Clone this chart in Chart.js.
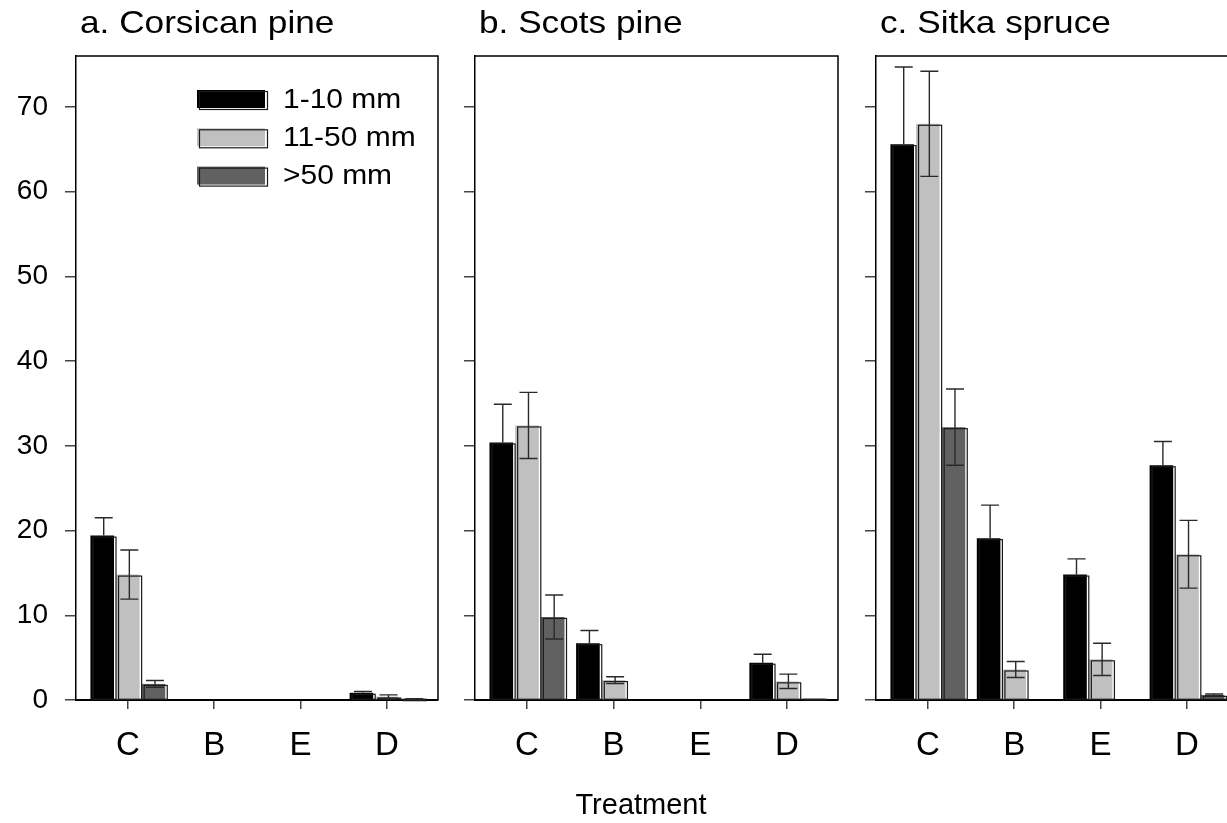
<!DOCTYPE html>
<html>
<head>
<meta charset="utf-8">
<script src="https://cdn.jsdelivr.net/npm/chart.js@4/dist/chart.umd.min.js"></script>
<style>
  html, body { margin: 0; padding: 0; background: #fff; overflow: hidden; width: 1227px; height: 823px; }
  canvas { position: absolute; top: 0; }
  #xtitle { position: absolute; top: 788px; left: 541px; width: 200px; text-align: center;
            font: 29px 'Liberation Sans', Arial, sans-serif; color: #000; }
</style>
</head>
<body>
<canvas id="c1" width="455" height="823" style="left:0px"></canvas>
<canvas id="c2" width="400" height="823" style="left:455px"></canvas>
<canvas id="c3" width="400" height="823" style="left:855px"></canvas>
<div id="xtitle">Treatment</div>
<script>
var FONT = "'Liberation Sans', Arial, sans-serif";

// categories and series
var treatments = ['C', 'B', 'E', 'D'];
var sizeClasses = ['1-10 mm', '11-50 mm', '>50 mm'];
var barColors = ['#000000', '#c0c0c0', '#616161'];
var yTicks = [0, 10, 20, 30, 40, 50, 60, 70];

// a. Corsican pine
var corsicanSmall = [19.4, null, null, 0.85];
var corsicanMedium = [14.8, null, null, 0.4];
var corsicanLarge = [1.9, null, null, 0.1];
var corsicanSmallSE = [2.1, null, null, 0.15];
var corsicanMediumSE = [2.9, null, null, 0.2];
var corsicanLargeSE = [0.4, null, null, 0.05];

// b. Scots pine
var scotsSmall = [30.4, 6.7, null, 4.4];
var scotsMedium = [32.4, 2.35, null, 2.2];
var scotsLarge = [9.8, null, null, 0.15];
var scotsSmallSE = [4.5, 1.5, null, 1.0];
var scotsMediumSE = [3.9, 0.4, null, 0.85];
var scotsLargeSE = [2.6, null, null, 0];

// c. Sitka spruce
var sitkaSmall = [65.6, 19.1, 14.8, 27.7];
var sitkaMedium = [68.0, 3.6, 4.8, 17.2];
var sitkaLarge = [32.2, null, null, 0.6];
var sitkaSmallSE = [9.1, 3.9, 1.85, 2.8];
var sitkaMediumSE = [6.2, 0.95, 1.9, 4.0];
var sitkaLargeSE = [4.5, null, null, 0.1];

// outline offset a little right/down of each bar, like the old plot style
var shadowPlugin = {
  id: 'shadow',
  afterDatasetsDraw: function (chart) {
    var ctx = chart.ctx;
    ctx.save();
    ctx.strokeStyle = '#1a1a1a';
    ctx.lineWidth = 1.2;
    chart.data.datasets.forEach(function (ds, i) {
      chart.getDatasetMeta(i).data.forEach(function (bar, j) {
        if (ds.data[j].y == null) return;
        var p = bar.getProps(['x', 'y', 'base', 'width'], true);
        var l = p.x - p.width / 2 + 2.5, r = p.x + p.width / 2 + 2;
        ctx.strokeRect(l, p.y + 1.5, r - l, p.base - p.y - 1.5);
      });
    });
    ctx.restore();
  }
};

var errorBarPlugin = {
  id: 'errbars',
  afterDatasetsDraw: function (chart) {
    var ctx = chart.ctx, ys = chart.scales.y;
    ctx.save();
    ctx.strokeStyle = '#2a2a2a';
    ctx.lineWidth = 1.4;
    chart.data.datasets.forEach(function (ds, i) {
      chart.getDatasetMeta(i).data.forEach(function (bar, j) {
        var v = ds.data[j].y, se = ds.se[j];
        if (v == null || !se) return;
        var x = bar.getProps(['x'], true).x + 1.5;
        var top = ys.getPixelForValue(v + se), bot = ys.getPixelForValue(v - se);
        // the lower half vanishes into the black bars
        var hideLow = ds.backgroundColor === '#000000';
        ctx.beginPath();
        ctx.moveTo(x, top); ctx.lineTo(x, hideLow ? ys.getPixelForValue(v) : bot);
        ctx.moveTo(x - 9, top); ctx.lineTo(x + 9, top);
        if (!hideLow) { ctx.moveTo(x - 9, bot); ctx.lineTo(x + 9, bot); }
        ctx.stroke();
      });
    });
    ctx.restore();
  }
};

var framePlugin = {
  id: 'frame',
  afterDraw: function (chart) {
    var a = chart.chartArea, ctx = chart.ctx;
    ctx.save();
    ctx.strokeStyle = '#000';
    ctx.lineWidth = 1.5;
    ctx.beginPath();
    ctx.moveTo(a.left, a.top); ctx.lineTo(a.right, a.top); ctx.lineTo(a.right, a.bottom);
    ctx.stroke();
    var opts = chart.options.plugins.frame;
    ctx.fillStyle = '#000';
    ctx.font = '32px ' + FONT;
    ctx.textBaseline = 'alphabetic';
    ctx.translate(a.left + 4, 33);
    ctx.scale(1.1, 1);
    ctx.fillText(opts.title, 0, 0);
    ctx.restore();
  }
};

var legendPlugin = {
  id: 'boxlegend',
  afterDraw: function (chart) {
    var opts = chart.options.plugins.boxlegend;
    if (!opts || !opts.show) return;
    var a = chart.chartArea, ctx = chart.ctx;
    ctx.save();
    chart.data.datasets.forEach(function (ds, i) {
      var x = a.left + 121, y = 90 + i * 38.3;
      ctx.fillStyle = ds.backgroundColor;
      ctx.fillRect(x, y, 68, 18);
      ctx.strokeStyle = '#1a1a1a';
      ctx.lineWidth = 1.2;
      ctx.strokeRect(x + 2.5, y + 1.5, 68, 18);
      ctx.save();
      ctx.fillStyle = '#000';
      ctx.font = '28px ' + FONT;
      ctx.textBaseline = 'middle';
      ctx.translate(x + 86, y + 10);
      ctx.scale(1.07, 1);
      ctx.fillText(ds.label, 0, 0);
      ctx.restore();
    });
    ctx.restore();
  }
};

function makeChart(id, title, yWidth, showYLabels, showLegend, small, medium, large, smallSE, mediumSE, largeSE) {
  var series = [small, medium, large];
  var ses = [smallSE, mediumSE, largeSE];
  var datasets = series.map(function (vals, k) {
    return {
      label: sizeClasses[k],
      data: vals.map(function (v, i) { return { x: i + 1, y: v }; }),
      se: ses[k],
      backgroundColor: barColors[k],
      borderWidth: 0,
      categoryPercentage: 0.89,
      barPercentage: 0.92
    };
  });
  return new Chart(document.getElementById(id), {
    type: 'bar',
    data: { datasets: datasets },
    plugins: [shadowPlugin, errorBarPlugin, framePlugin, legendPlugin],
    options: {
      responsive: false,
      animation: false,
      events: [],
      layout: { padding: { top: 56, right: 17, bottom: 0, left: 0 } },
      plugins: {
        legend: { display: false },
        tooltip: { enabled: false },
        frame: { title: title },
        boxlegend: { show: showLegend }
      },
      scales: {
        x: {
          type: 'linear',
          offset: false,
          min: 0.40,
          max: 4.59,
          afterBuildTicks: function (s) { s.ticks = treatments.map(function (t, i) { return { value: i + 1 }; }); },
          afterFit: function (s) { s.height = 123; },
          grid: { offset: false, drawOnChartArea: false, drawTicks: true, tickLength: 9, tickColor: '#444', lineWidth: 1.5 },
          border: { color: '#000', width: 2 },
          ticks: {
            padding: 17,
            color: '#000',
            font: { family: FONT, size: 33 },
            callback: function (v) { return treatments[v - 1] || ''; }
          }
        },
        y: {
          min: 0,
          max: 76,
          afterBuildTicks: function (s) { s.ticks = yTicks.map(function (v) { return { value: v }; }); },
          afterFit: function (s) { s.width = yWidth; },
          grid: { drawOnChartArea: false, drawTicks: true, tickLength: 11, tickColor: '#444', lineWidth: 1.5 },
          border: { color: '#000', width: 1.5 },
          ticks: {
            display: showYLabels,
            padding: 17,
            color: '#000',
            font: { family: FONT, size: 28 }
          }
        }
      }
    }
  });
}

makeChart('c1', 'a. Corsican pine', 76, true, true,
  corsicanSmall, corsicanMedium, corsicanLarge, corsicanSmallSE, corsicanMediumSE, corsicanLargeSE);
makeChart('c2', 'b. Scots pine', 20, false, false,
  scotsSmall, scotsMedium, scotsLarge, scotsSmallSE, scotsMediumSE, scotsLargeSE);
makeChart('c3', 'c. Sitka spruce', 21, false, false,
  sitkaSmall, sitkaMedium, sitkaLarge, sitkaSmallSE, sitkaMediumSE, sitkaLargeSE);
</script>
</body>
</html>
